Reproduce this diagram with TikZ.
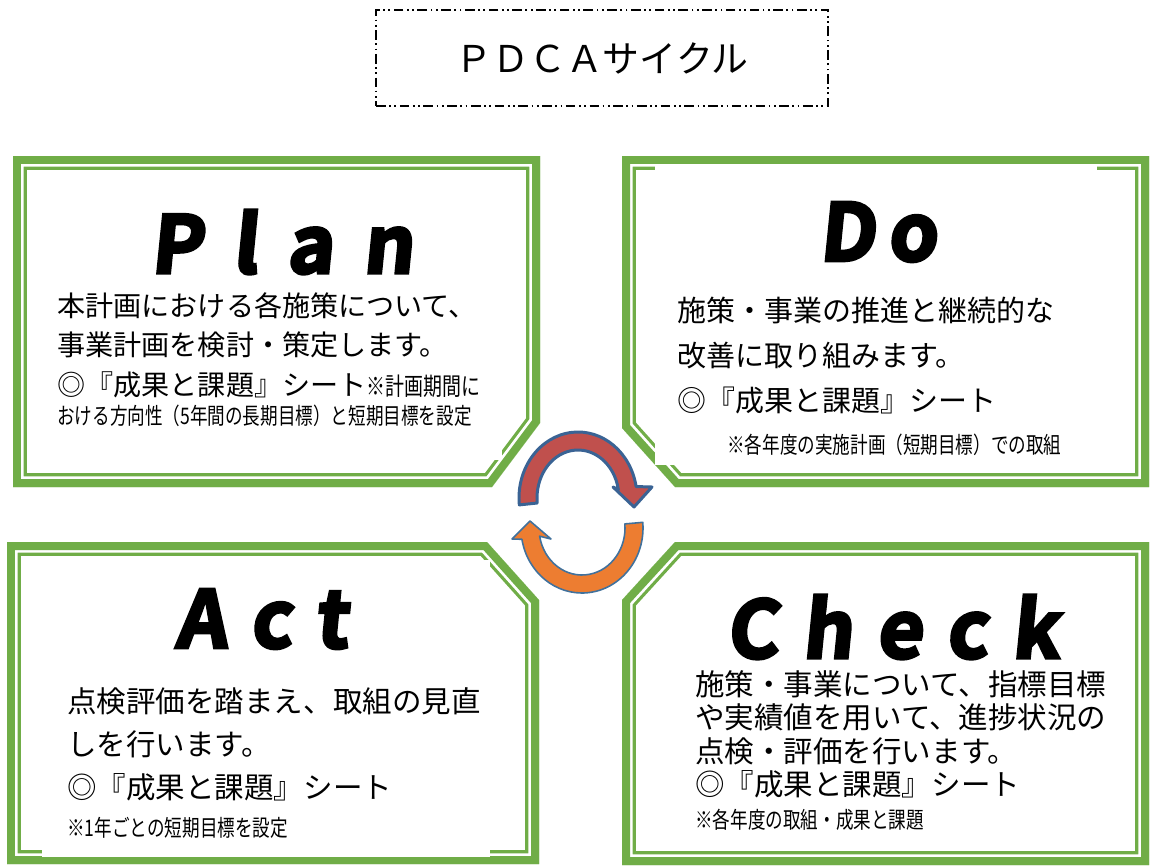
\documentclass[tikz,border=0pt]{standalone}
\usepackage{fontspec}
\usepackage{xcolor}
\usetikzlibrary{calc}

\setmainfont{Noto Sans CJK JP}
\newfontfamily\headfont{Noto Sans CJK JP}[UprightFont=* Bold,FakeBold=4,FakeSlant=0.1]
\newfontfamily\notefont{Noto Sans CJK JP}[FakeStretch=0.77]

\definecolor{panelgreen}{HTML}{70AD47}
\definecolor{loopred}{HTML}{C0504D}
\definecolor{loopblue}{HTML}{3A6394}
\definecolor{looporange}{HTML}{ED7D31}
\definecolor{loopedge}{HTML}{41719C}

\tikzset{
	titlebox/.style={draw,line width=0.75pt,dash pattern=on 5.5pt off 2pt on 1pt off 2pt on 1pt off 2pt,minimum width=9.04cm,minimum height=1.92cm,font=\fontsize{21pt}{21pt}\selectfont},
	heading/.style={inner sep=0pt,font=\headfont\fontsize{45pt}{45pt}\selectfont\addfontfeature{LetterSpace=#1}},
	heading/.default=25,
	bodytext/.style={align=left,anchor=north west,inner sep=0pt},
	notetext/.style={anchor=west,inner sep=0pt,font=\notefont\fontsize{13pt}{15pt}\selectfont},
	coverbox/.style={fill=white}
}

\newcommand\greenpanel[1]{
	\begin{scope}
		\clip #1;
		\fill[white] #1;
		\draw[panelgreen,line width=15.9pt] #1;
		\draw[white,line width=12.2pt] #1;
		\draw[panelgreen,line width=9.1pt] #1;
	\end{scope}
}

\begin{document}
\begin{tikzpicture}[x=0.02cm,y=-0.02cm]
	\useasboundingbox (0,0) rectangle (1150,866);

	\node[titlebox] (title) at (602,58) {ＰＤＣＡサイクル};

	\greenpanel{(13,156) -- (540,156) -- (540,423) -- (492,487) -- (13,487) -- cycle}
	\greenpanel{(622,156) -- (1149,156) -- (1149,487) -- (675,487) -- (622,428) -- cycle}
	\greenpanel{(7,542) -- (487,542) -- (539,600) -- (539,864) -- (7,864) -- cycle}
	\greenpanel{(675,542) -- (1149,542) -- (1149,865) -- (622,865) -- (622,600) -- cycle}

	\fill[coverbox] (40,180) rectangle (502,460);
	\fill[coverbox] (655,166) rectangle (1097,465);
	\fill[coverbox] (42,560) rectangle (490,857);
	\fill[coverbox] (675,563) rectangle (1110,850);

	\node[heading=37] (plan) at (282,242) {Plan};
	\node[bodytext,font=\fontsize{16pt}{22.5pt}\selectfont] (plantext) at (57,292)
	{
		本計画における各施策について、\\
		事業計画を検討・策定します。\\
		◎『成果と課題』シート{\notefont\fontsize{14pt}{15pt}\selectfont ※計画期間に}
	};
	\node[notetext] (plannote) at (57,416) {おける方向性（5年間の長期目標）と短期目標を設定};

	\node[heading=15] (do) at (878,232) {Do};
	\node[bodytext,font=\fontsize{16.5pt}{25.6pt}\selectfont] (dotext) at (677,297)
	{
		施策・事業の推進と継続的な\\
		改善に取り組みます。\\
		◎『成果と課題』シート
	};
	\node[notetext] (donote) at (727,445) {※各年度の実施計画（短期目標）での取組};

	\node[heading=30] (act) at (262,619) {Act};
	\node[bodytext,font=\fontsize{16.8pt}{24.5pt}\selectfont] (acttext) at (67,687)
	{
		点検評価を踏まえ、取組の見直\\
		しを行います。\\
		◎『成果と課題』シート
	};
	\node[notetext] (actnote) at (67,828) {※1年ごとの短期目標を設定};

	\node[heading=30] (check) at (893,627) {Check};
	\node[bodytext,font=\fontsize{16.8pt}{19pt}\selectfont] (checktext) at (695,670)
	{
		施策・事業について、指標目標\\
		や実績値を用いて、進捗状況の\\
		点検・評価を行います。\\
		◎『成果と課題』シート
	};
	\node[notetext] (checknote) at (695,820) {※各年度の取組・成果と課題};

	\coordinate (redc) at (578,498);
	\coordinate (orangec) at (582,528);
	\fill[loopred,draw=loopblue,line width=1.7pt,line join=round]
		($(redc)+(174:59 and 66)$) arc[start angle=174,end angle=350,x radius=59,y radius=66]
		-- (652,487) -- (634,507) -- (613,487)
		-- ($(redc)+(350:41 and 48)$) arc[start angle=350,end angle=174,x radius=41,y radius=48] -- cycle;
	\fill[looporange,draw=loopedge,line width=0.9pt,line join=round]
		($(orangec)+(-5:61 and 65)$) arc[start angle=-5,end angle=170,x radius=61,y radius=65]
		-- (512,539) -- (530,521) -- (551,539)
		-- ($(orangec)+(170:43 and 47)$) arc[start angle=170,end angle=-5,x radius=43,y radius=47] -- cycle;
\end{tikzpicture}
\end{document}
